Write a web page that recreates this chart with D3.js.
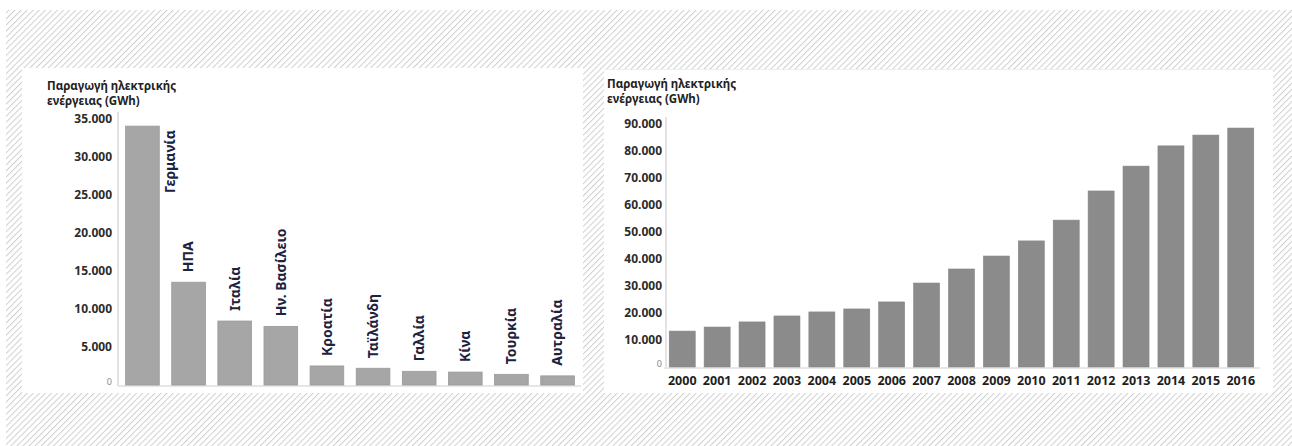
<!DOCTYPE html>
<html>
<head>
<meta charset="utf-8">
<script src="https://cdn.jsdelivr.net/npm/d3@7/dist/d3.min.js"></script>
<style>
  html, body { margin: 0; padding: 0; background: #fff; }
  svg { display: block; }
  text { font-family: "Noto Sans", "Open Sans", sans-serif; }
</style>
</head>
<body>
<svg id="chart" width="1292" height="446"></svg>
<script>
// Electricity production by country (GWh)
const countries = ["Γερμανία", "ΗΠΑ", "Ιταλία", "Ην. Βασίλειο", "Κροατία",
                   "Ταϊλάνδη", "Γαλλία", "Κίνα", "Τουρκία", "Αυτραλία"];
const countryValues = [34000, 13500, 8400, 7700, 2500, 2200, 1800, 1700, 1400, 1200];
const countryTicks = [0, 5000, 10000, 15000, 20000, 25000, 30000, 35000];

// Electricity production per year (GWh)
const years = ["2000", "2001", "2002", "2003", "2004", "2005", "2006", "2007", "2008",
               "2009", "2010", "2011", "2012", "2013", "2014", "2015", "2016"];
const yearValues = [13300, 14800, 16700, 18900, 20400, 21500, 24100, 31100, 36300,
                    41100, 46700, 54400, 65200, 74400, 81900, 85900, 88500];
const yearTicks = [0, 10000, 20000, 30000, 40000, 50000, 60000, 70000, 80000, 90000];

const titleLines = ["Παραγωγή ηλεκτρικής", "ενέργειας (GWh)"];

const fmt = v => v === 0 ? "0" : d3.format(",")(v).replace(/,/g, ".");

const svg = d3.select("#chart");

// hatched backdrop
const defs = svg.append("defs");
const pat = defs.append("pattern")
  .attr("id", "hatch")
  .attr("patternUnits", "userSpaceOnUse")
  .attr("width", 4.3).attr("height", 4.3)
  .attr("patternTransform", "rotate(45)");
pat.append("line")
  .attr("x1", 0.5).attr("y1", 0).attr("x2", 0.5).attr("y2", 4.3)
  .attr("stroke", "#cfcfcf").attr("stroke-width", 1);

svg.append("rect").attr("x", 6).attr("y", 10).attr("width", 1286).attr("height", 436)
  .attr("fill", "url(#hatch)");

// white panels
svg.append("rect").attr("x", 22).attr("y", 68).attr("width", 561).attr("height", 325).attr("fill", "#fff");
svg.append("rect").attr("x", 604).attr("y", 69).attr("width", 669).attr("height", 324).attr("fill", "#fff");
svg.append("line").attr("x1", 604).attr("x2", 1273).attr("y1", 69.5).attr("y2", 69.5)
  .attr("stroke", "#eeeeee");

function title(x, y) {
  const t = svg.append("text")
    .attr("x", x).attr("y", y)
    .attr("font-size", 11.5).attr("font-weight", "bold").attr("fill", "#222");
  titleLines.forEach((l, i) => {
    t.append("tspan").attr("x", x).attr("dy", i === 0 ? 0 : 15).text(l);
  });
}

function styleYAxis(g) {
  g.selectAll(".tick text")
    .attr("font-size", d => d === 0 ? 9 : 12)
    .attr("font-weight", d => d === 0 ? "normal" : "bold")
    .attr("fill", d => d === 0 ? "#888" : "#2b2b2b")
    .attr("font-family", "'Noto Sans', sans-serif")
    .attr("dy", d => d === 0 ? "-0.1em" : "0.32em");
}

// ---------- countries ----------
{
  title(47, 90);
  const x = d3.scaleBand().domain(countries).range([121, 579])
    .paddingInner(0.27).paddingOuter(0.1);
  const y = d3.scaleLinear().domain([0, 35000]).range([385, 118.5]);

  // axis lines
  svg.append("line").attr("x1", 118).attr("x2", 118).attr("y1", 112).attr("y2", 386)
    .attr("stroke", "#e2e2e2").attr("stroke-width", 2);
  svg.append("line").attr("x1", 118).attr("x2", 581).attr("y1", 386).attr("y2", 386)
    .attr("stroke", "#e6e6e6").attr("stroke-width", 2);

  const ya = svg.append("g").attr("transform", "translate(118,0)")
    .call(d3.axisLeft(y).tickValues(countryTicks).tickSize(0).tickPadding(6).tickFormat(fmt));
  ya.select(".domain").remove();
  styleYAxis(ya);

  svg.append("g").selectAll("rect").data(countries).join("rect")
    .attr("x", d => x(d))
    .attr("y", (d, i) => y(countryValues[i]))
    .attr("width", x.bandwidth())
    .attr("height", (d, i) => y(0) - y(countryValues[i]))
    .attr("fill", "#a6a6a6")
    .attr("stroke", "#9a9a9a").attr("stroke-width", 0.8);

  const labels = svg.append("g").selectAll("text").data(countries).join("text")
    .attr("font-size", 14).attr("font-weight", "bold").attr("fill", "#1c2340")
    .attr("dy", "0.35em")
    .text(d => d);

  labels.each(function (d, i) {
    const t = d3.select(this);
    const len = this.getComputedTextLength();
    const top = y(countryValues[i]);
    if (top - 10 - len < 112) {
      // too tall: write beside the bar, ending at its top
      t.attr("text-anchor", "end")
        .attr("transform", `translate(${x(d) + x.bandwidth() + 11},${top + 4}) rotate(-90)`);
    } else {
      t.attr("text-anchor", "start")
        .attr("transform", `translate(${x(d) + x.bandwidth() / 2},${top - 10}) rotate(-90)`);
    }
  });
}

// ---------- years ----------
{
  title(607, 88);
  const x = d3.scaleBand().domain(years).range([664, 1259])
    .paddingInner(0.255).paddingOuter(0.15);
  const y = d3.scaleLinear().domain([0, 90000]).range([367, 124]);

  svg.append("line").attr("x1", 666).attr("x2", 666).attr("y1", 117).attr("y2", 368)
    .attr("stroke", "#e4e4e4").attr("stroke-width", 2);
  svg.append("line").attr("x1", 664).attr("x2", 1260).attr("y1", 368).attr("y2", 368)
    .attr("stroke", "#e8e8e8").attr("stroke-width", 2);

  const ya = svg.append("g").attr("transform", "translate(666,0)")
    .call(d3.axisLeft(y).tickValues(yearTicks).tickSize(0).tickPadding(4).tickFormat(fmt));
  ya.select(".domain").remove();
  styleYAxis(ya);

  svg.append("g").selectAll("rect").data(years).join("rect")
    .attr("x", d => x(d))
    .attr("y", (d, i) => y(yearValues[i]))
    .attr("width", x.bandwidth())
    .attr("height", (d, i) => y(0) - y(yearValues[i]))
    .attr("fill", "#8b8b8b")
    .attr("stroke", "#858585").attr("stroke-width", 0.6);

  const xa = svg.append("g").attr("transform", "translate(0,368)")
    .call(d3.axisBottom(x).tickSize(0).tickPadding(8));
  xa.select(".domain").remove();
  xa.selectAll(".tick text")
    .attr("font-size", 12.5).attr("font-weight", "bold").attr("fill", "#1e1e1e")
    .attr("font-family", "'Noto Sans', sans-serif");
}
</script>
</body>
</html>
